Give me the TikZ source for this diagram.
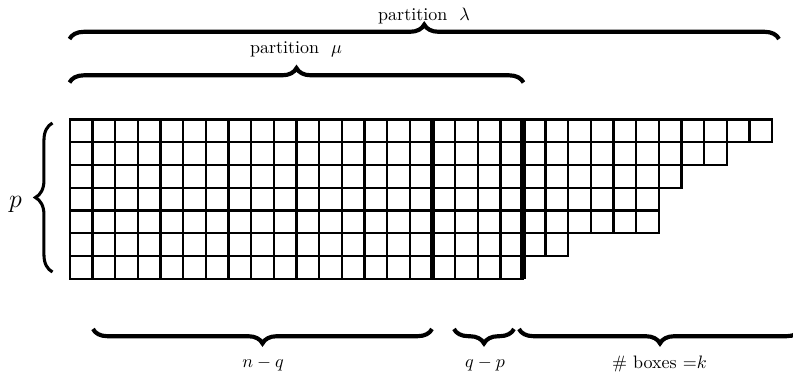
\documentclass[tikz,border=0pt]{standalone}
\usepackage{amsmath}
\usepackage{tikz}
\usetikzlibrary{positioning,decorations.pathreplacing}

\begin{document}
\begin{tikzpicture}[x=0.5556pt,y=-0.5556pt,
    cell/.style={draw,line width=1.3pt},
    wall/.style={line width=3pt},
    brc/.style={decorate,decoration={brace,amplitude=8pt},line width=2.3pt},
    brcdown/.style={decorate,decoration={brace,mirror,amplitude=8pt},line width=2.3pt},
    lbl/.style={inner sep=0pt}]
    \useasboundingbox (0,0) rectangle (793,374);
    % rows of the diagram, row/length
    \foreach \r/\n in {0/31,1/29,2/27,3/26,4/26,5/22,6/20}
      \foreach \c in {1,...,\n}
        \draw[cell] ({70+(\c-1)*22.65},{119.5+\r*22.75}) rectangle ++(22.65,22.75);
    % the two thick walls
    \coordinate (nqT) at (432.4,119.5); \coordinate (nqB) at (432.4,278.75);
    \coordinate (qpT) at (523,119.5);   \coordinate (qpB) at (523,278.75);
    \draw[wall] (nqT)--(nqB); \draw[wall] (qpT)--(qpB);
    % braces on top
    \coordinate (lamA) at (69.5,39);  \coordinate (lamB) at (779,39);
    \coordinate (muA) at (69.5,82.5); \coordinate (muB) at (523.5,82.5);
    \draw[brc] (lamA)--(lamB); \draw[brc] (muA)--(muB);
    \node[lbl] (lam) at (424,16) {partition \ $\lambda$};
    \node[lbl] (mu) at (296,49.5) {partition \ $\mu$};
    % braces below
    \coordinate (nqA) at (93,329);  \coordinate (nqZ) at (432,329);
    \coordinate (qpA) at (454,329); \coordinate (qpZ) at (514,329);
    \coordinate (kA) at (519,329);  \coordinate (kZ) at (801,329);
    \draw[brcdown] (nqA)--(nqZ); \draw[brcdown] (qpA)--(qpZ); \draw[brcdown] (kA)--(kZ);
    \node[lbl] (nq) at (263,364) {$n-q$};
    \node[lbl] (qp) at (485,364) {$q-p$};
    \node[lbl] (k) at (659.5,364) {$\#\ \mathrm{boxes}\ {=}k$};
    % left brace
    \coordinate (pA) at (52.5,272); \coordinate (pZ) at (52.5,123);
    \draw[decorate,decoration={brace,amplitude=9.5pt},line width=1.7pt] (pA)--(pZ);
    \node[lbl] (p) at (15.5,204) {\Large $p$};
  \end{tikzpicture}
\end{document}
